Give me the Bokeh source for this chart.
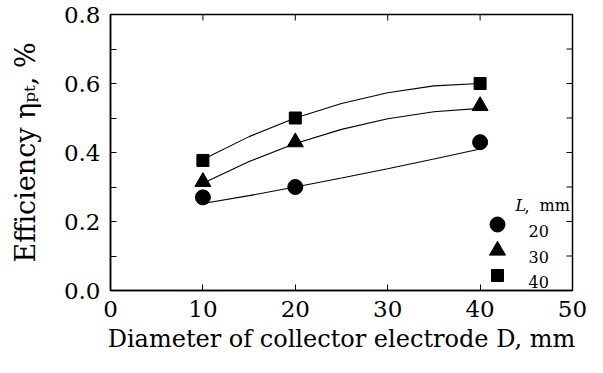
from bokeh.plotting import figure
from bokeh.models import Range1d, FixedTicker, Label, PrintfTickFormatter
from bokeh.embed import file_html
from bokeh.resources import INLINE

# ---- data ----
diameter = [10, 20, 40]
eff_L20 = [0.27, 0.30, 0.43]
eff_L30 = [0.315, 0.43, 0.535]
eff_L40 = [0.377, 0.50, 0.60]

fit_x = [10, 15, 20, 25, 30, 35, 40]
fit_L20 = [0.252, 0.275, 0.300, 0.326, 0.353, 0.381, 0.410]
fit_L30 = [0.311, 0.374, 0.426, 0.467, 0.498, 0.518, 0.528]
fit_L40 = [0.380, 0.446, 0.500, 0.542, 0.573, 0.593, 0.600]

x_ticks = [0, 10, 20, 30, 40, 50]
y_ticks = [0.0, 0.2, 0.4, 0.6, 0.8]
y_minor = [0.1, 0.3, 0.5, 0.7]
legend_labels = ["20", "30", "40"]
x_title = "Diameter of collector electrode D, mm"
y_title = "Efficiency ηₚₜ, %"

FONT = "DejaVu Serif"
X_MIN, X_MAX, Y_MIN, Y_MAX = 0, 50, 0.0, 0.8

p = figure(width=587, height=357, x_range=Range1d(X_MIN, X_MAX), y_range=Range1d(Y_MIN, Y_MAX),
           output_backend="svg", toolbar_location=None,
           min_border_left=110, min_border_right=15, min_border_top=14, min_border_bottom=67)
p.grid.visible = False
p.outline_line_color = "black"
p.outline_line_width = 1.5
p.background_fill_color = "white"
p.border_fill_color = "white"


def style_axis(ax, ticks, minor):
    ax.ticker = FixedTicker(ticks=ticks, minor_ticks=minor)
    ax.axis_line_color = "black"
    ax.axis_line_width = 1.5
    ax.major_tick_in = 6
    ax.major_tick_out = 0
    ax.minor_tick_in = 6
    ax.minor_tick_out = 0
    ax.major_tick_line_width = 1
    ax.minor_tick_line_width = 1
    ax.major_tick_line_color = "black"
    ax.minor_tick_line_color = "black"
    ax.major_label_text_font = FONT
    ax.major_label_text_color = "black"
    ax.major_label_text_font_size = "23px"
    ax.major_label_standoff = 10
    ax.axis_label_text_font = FONT
    ax.axis_label_text_font_style = "normal"
    ax.axis_label_text_color = "black"


xa = p.xaxis[0]
ya = p.yaxis[0]
style_axis(xa, x_ticks, [])
style_axis(ya, y_ticks, y_minor)
ya.formatter = PrintfTickFormatter(format="%.1f")

xa.axis_label = x_title
xa.axis_label_text_font_size = "24px"
xa.axis_label_standoff = 5

ya.axis_label = y_title
ya.axis_label_text_font_size = "27px"
ya.axis_label_standoff = 20

# mirrored inward ticks on the top and right frame edges
tick_dy = 6 / 345.0
tick_dx = 6 / 9.24
p.segment(x0=x_ticks, y0=[Y_MAX] * len(x_ticks), x1=x_ticks, y1=[Y_MAX - tick_dy] * len(x_ticks),
          line_color="black", line_width=1)
ry = y_ticks + y_minor
p.segment(x0=[X_MAX] * len(ry), y0=ry, x1=[X_MAX - tick_dx] * len(ry), y1=ry,
          line_color="black", line_width=1)

# ---- fit curves and data ----
for fy in (fit_L20, fit_L30, fit_L40):
    p.line(fit_x, fy, line_color="black", line_width=1.1)

p.scatter(diameter, eff_L20, marker="circle", size=15, fill_color="black", line_color="black")
p.scatter(diameter, eff_L30, marker="triangle", size=16, fill_color="black", line_color="black")
p.scatter(diameter, eff_L40, marker="square", size=12, fill_color="black", line_color="black")


# reference-pixel -> data helpers for the in-frame legend
def dx(px):
    return (px - 118) / 9.24


def dy(py):
    return (298 - py) / 345


def lab(text, x, y, size, style="normal"):
    p.add_layout(Label(x=x, y=y, text=text, text_font=FONT, text_font_size=size,
                       text_font_style=style, text_color="black",
                       text_align="left", text_baseline="alphabetic"))


marker_names = ["circle", "triangle", "square"]
marker_sizes = [15, 16, 12]
marker_py = [232, 258, 283]
for name, sz, py, txt in zip(marker_names, marker_sizes, marker_py, legend_labels):
    p.scatter([dx(505)], [dy(py)], marker=name, size=sz, fill_color="black", line_color="black")
    lab(txt, dx(536), dy(py + 6), "16px")
lab("L", dx(523), dy(213), "16px", "italic")
lab(",", dx(532), dy(213), "16px")
lab("mm", dx(547), dy(213), "16px")

open("out.html", "w").write(file_html(p, INLINE))
